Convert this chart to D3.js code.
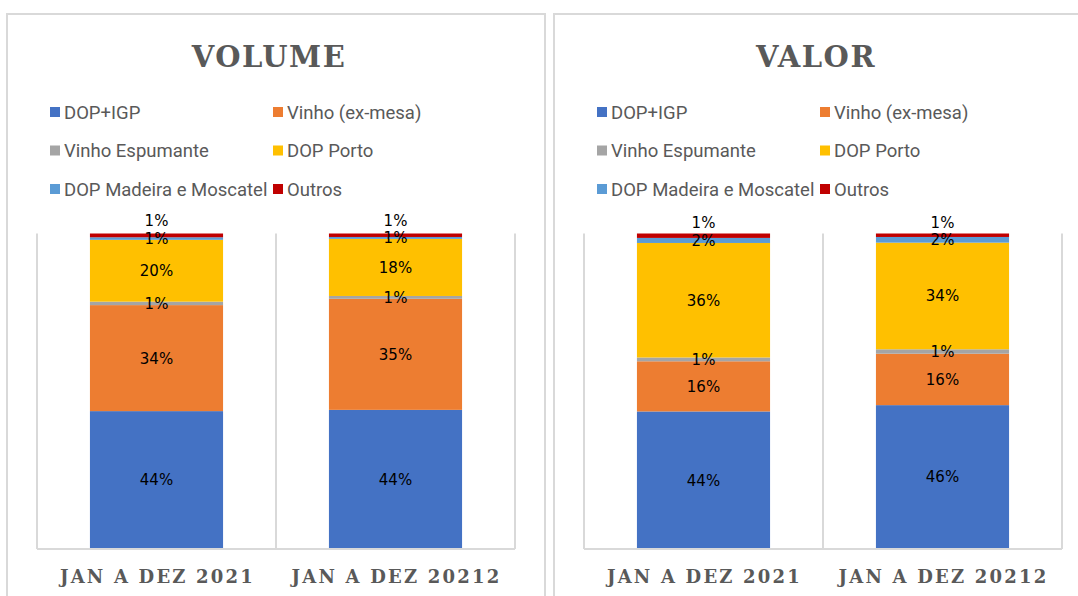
<!DOCTYPE html>
<html>
<head>
<meta charset="utf-8">
<script src="https://cdn.jsdelivr.net/npm/d3@7"></script>
<style>
  body { margin: 0; background: #fff; }
</style>
</head>
<body>
<div id="chart-area"></div>
<script>
// Categories and series
var categories = ["JAN A DEZ 2021", "JAN A DEZ 20212"];
var series = ["DOP+IGP", "Vinho (ex-mesa)", "Vinho Espumante", "DOP Porto", "DOP Madeira e Moscatel", "Outros"];
var colors = ["#4472C4", "#ED7D31", "#A5A5A5", "#FFC000", "#5B9BD5", "#C00000"];

// Shares (%) per series, one value per category
var volumeValues = [
    [43.7, 44.1],
    [33.6, 35.2],
    [1.1, 0.9],
    [19.6, 18.1],
    [0.8, 0.6],
    [1.2, 1.1]
];
var valorValues = [
    [43.6, 45.6],
    [15.9, 16.3],
    [1.2, 1.4],
    [36.3, 33.8],
    [1.6, 1.8],
    [1.4, 1.1]
];

var W = 1078, H = 596;

var svg = d3.select("#chart-area")
    .append("svg")
        .attr("width", W)
        .attr("height", H);

var panelW = 538;
var plot = { left: 30, top: 233.5, width: 478, height: 315.5 };

drawPanel(7, "VOLUME", volumeValues);
drawPanel(554, "VALOR", valorValues);

function drawPanel(px, title, values) {
    var g = svg.append("g")
        .attr("transform", "translate(" + px + ",0)");

    // panel frame
    g.append("rect")
        .attr("x", 0)
        .attr("y", 14)
        .attr("width", panelW)
        .attr("height", H)
        .attr("fill", "#fff")
        .attr("stroke", "#d9d9d9")
        .attr("stroke-width", 2);

    // Title
    g.append("text")
        .attr("x", plot.left + plot.width / 2 - 7)
        .attr("y", 67)
        .attr("text-anchor", "middle")
        .attr("font-family", "DejaVu Serif")
        .attr("font-weight", "bold")
        .attr("font-size", "29px")
        .attr("letter-spacing", "1.5px")
        .attr("fill", "#595959")
        .text(title);

    // Legend
    var legend = g.selectAll(".legend")
        .data(series)
        .enter().append("g")
            .attr("class", "legend")
            .attr("transform", function(d, i) {
                var col = i % 2, row = Math.floor(i / 2);
                return "translate(" + (43 + col * 223) + "," + (112 + row * 38.5) + ")";
            });

    legend.append("rect")
        .attr("x", 0)
        .attr("y", -5)
        .attr("width", 10)
        .attr("height", 10)
        .attr("fill", function(d, i) { return colors[i]; });

    legend.append("text")
        .attr("x", 14)
        .attr("y", 6.5)
        .attr("font-family", "Roboto")
        .attr("font-size", "18.5px")
        .attr("fill", "#595959")
        .text(function(d) { return d; });

    var pg = g.append("g")
        .attr("transform", "translate(" + plot.left + "," + plot.top + ")");

    // X Scale
    var x = d3.scaleBand()
        .domain(categories)
        .range([0, plot.width])
        .paddingInner(0.443)
        .paddingOuter(0.2215);

    // Y Scale
    var y = d3.scaleLinear()
        .domain([0, 100])
        .range([plot.height, 0]);

    // category separators
    pg.selectAll(".sep")
        .data(d3.range(categories.length + 1))
        .enter().append("line")
            .attr("x1", function(d) { return d * x.step(); })
            .attr("x2", function(d) { return d * x.step(); })
            .attr("y1", 0)
            .attr("y2", plot.height)
            .attr("stroke", "#d9d9d9")
            .attr("stroke-width", 2);

    // stack
    var rows = categories.map(function(c, ci) {
        var r = { cat: c };
        series.forEach(function(s, si) { r[s] = values[si][ci]; });
        return r;
    });
    var stacked = d3.stack().keys(series)(rows);

    var layers = pg.selectAll(".layer")
        .data(stacked)
        .enter().append("g")
            .attr("class", "layer")
            .attr("fill", function(d, i) { return colors[i]; });

    layers.selectAll("rect")
        .data(function(d) { return d; })
        .enter().append("rect")
            .attr("x", function(d) { return x(d.data.cat); })
            .attr("width", x.bandwidth())
            .attr("y", function(d) { return y(d[1]); })
            .attr("height", function(d) { return y(d[0]) - y(d[1]); });

    // bottom axis line
    pg.append("line")
        .attr("x1", 0)
        .attr("x2", plot.width)
        .attr("y1", plot.height)
        .attr("y2", plot.height)
        .attr("stroke", "#d9d9d9")
        .attr("stroke-width", 2);

    // data labels, pushed up when they collide
    categories.forEach(function(c, ci) {
        var prevY = Infinity;
        stacked.forEach(function(layer, si) {
            var d = layer[ci];
            var ly = Math.min((y(d[0]) + y(d[1])) / 2, prevY - 17.5);
            prevY = ly;
            pg.append("text")
                .attr("x", x(c) + x.bandwidth() / 2)
                .attr("y", ly)
                .attr("dy", "0.36em")
                .attr("text-anchor", "middle")
                .attr("font-family", "DejaVu Sans")
                .attr("font-size", "15px")
                .attr("fill", "#000")
                .text(Math.round(values[si][ci]) + "%");
        });
    });

    // X axis labels
    pg.selectAll(".xlabel")
        .data(categories)
        .enter().append("text")
            .attr("class", "xlabel")
            .attr("x", function(d) { return x(d) + x.bandwidth() / 2 + 1; })
            .attr("y", plot.height + 34)
            .attr("text-anchor", "middle")
            .attr("font-family", "DejaVu Serif")
            .attr("font-weight", "bold")
            .attr("font-size", "18px")
            .attr("letter-spacing", "2.2px")
            .attr("fill", "#595959")
            .text(function(d) { return d; });
}
</script>
</body>
</html>
